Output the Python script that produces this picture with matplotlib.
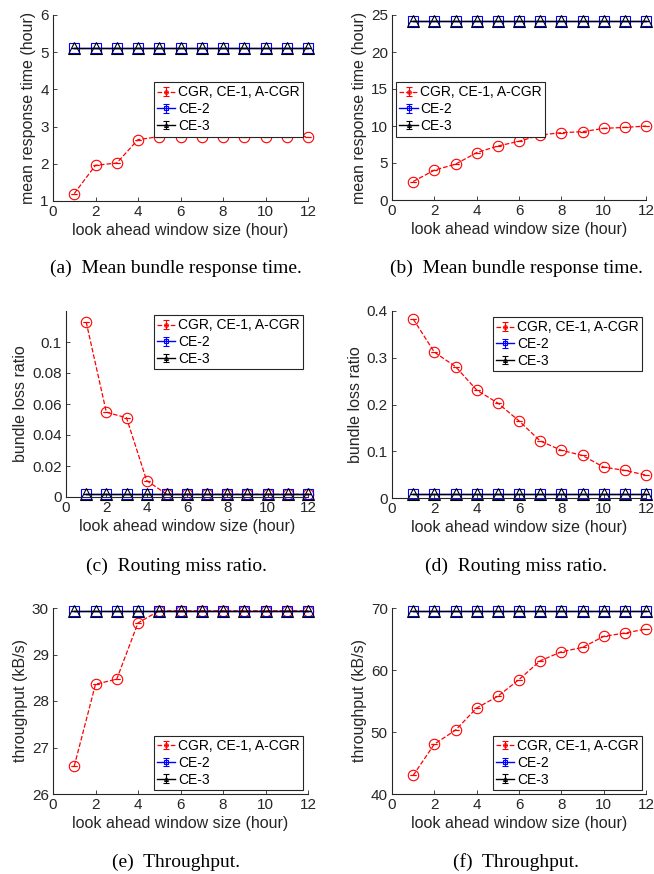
import numpy as np
import matplotlib.pyplot as plt
from matplotlib.container import ErrorbarContainer
from matplotlib.legend_handler import HandlerErrorbar

# datos
hours = [1, 2, 3, 4, 5, 6, 7, 8, 9, 10, 11, 12]
series_names = ['CGR, CE-1, A-CGR', 'CE-2', 'CE-3']

resp_a_cgr = [1.20, 1.96, 2.02, 2.65, 2.73, 2.73, 2.73, 2.73, 2.73, 2.73, 2.73, 2.73]
resp_a_ce2 = [5.10] * 12
resp_a_ce3 = [5.10] * 12

resp_b_cgr = [2.5, 4.03, 4.84, 6.4, 7.3, 7.93, 8.78, 9.1, 9.23, 9.68, 9.81, 9.99]
resp_b_ce2 = [24.2] * 12
resp_b_ce3 = [24.2] * 12

loss_c_cgr = [0.1129, 0.0547, 0.0511, 0.0106, 0.0017, 0.0017, 0.0017, 0.0017, 0.0017, 0.0017, 0.0017, 0.0017]
loss_c_ce2 = [0.0019] * 12
loss_c_ce3 = [0.0019] * 12

loss_d_cgr = [0.383, 0.312, 0.281, 0.231, 0.203, 0.165, 0.122, 0.102, 0.091, 0.066, 0.059, 0.049]
loss_d_ce2 = [0.009] * 12
loss_d_ce3 = [0.009] * 12

thr_e_cgr = [26.60, 28.36, 28.47, 29.68, 29.94, 29.94, 29.94, 29.94, 29.94, 29.94, 29.94, 29.94]
thr_e_ce2 = [29.94] * 12
thr_e_ce3 = [29.94] * 12

thr_f_cgr = [43.0, 48.04, 50.3, 53.87, 55.76, 58.46, 61.48, 62.94, 63.64, 65.42, 65.96, 66.6]
thr_f_ce2 = [69.47] * 12
thr_f_ce3 = [69.47] * 12

err_zero = [0.0] * 12

W, H = 654, 874
axcol = '#262626'

plt.rcParams['font.family'] = ['Liberation Sans', 'DejaVu Sans']
plt.rcParams['font.size'] = 11

fig = plt.figure(figsize=(W / 100, H / 100), dpi=100)


def make_ax(l, r, t, b):
    return fig.add_axes([l / W, 1 - b / H, (r - l) / W, (b - t) / H])


def panel(ax, cgr, ce2, ce3, ylim, yticks, ylabel, leg_xy, leg_loc, ytl=None):
    h1 = ax.errorbar(hours, cgr, yerr=err_zero, color='r', ls='--', lw=0.9,
                     marker='o', ms=7.5, mfc='none', mew=0.8, capsize=2,
                     elinewidth=0.8, label=series_names[0])
    h2 = ax.errorbar(hours, ce2, yerr=err_zero, color='b', ls='-', lw=1.0,
                     marker='s', ms=7.5, mfc='none', mew=0.8, capsize=2,
                     elinewidth=0.8, label=series_names[1])
    h3 = ax.errorbar(hours, ce3, yerr=err_zero, color='k', ls='-', lw=1.0,
                     marker='^', ms=8, mfc='none', mew=0.8, capsize=2,
                     elinewidth=0.8, label=series_names[2])
    for h in (h1, h2, h3):
        for art in h.get_children():
            art.set_clip_on(False)
    ax.set_xlim(0, 12)
    ax.set_xticks(range(0, 13, 2))
    ax.set_ylim(*ylim)
    ax.set_yticks(yticks)
    if ytl is not None:
        ax.set_yticklabels(ytl)
    ax.set_xlabel('look ahead window size (hour)', color=axcol, labelpad=3, fontsize=11.5)
    ax.set_ylabel(ylabel, color=axcol, labelpad=3, fontsize=11.5)
    ax.spines['top'].set_visible(False)
    ax.spines['right'].set_visible(False)
    for s in ('left', 'bottom'):
        ax.spines[s].set_color(axcol)
        ax.spines[s].set_linewidth(0.8)
    ax.tick_params(direction='in', length=3, width=0.6, colors=axcol, pad=3)
    leg = ax.legend(loc=leg_loc, bbox_to_anchor=(leg_xy[0] / W, 1 - leg_xy[1] / H),
                    bbox_transform=fig.transFigure, borderaxespad=0, fancybox=False,
                    framealpha=1, edgecolor=axcol, markerscale=0.35, handlelength=1.3,
                    handletextpad=0.2, labelspacing=0.2, borderpad=0.25, fontsize=10,
                    handler_map={ErrorbarContainer: HandlerErrorbar(yerr_size=0.3)})
    leg.get_frame().set_linewidth(0.8)


ax_a = make_ax(53, 308, 15, 201)
panel(ax_a, resp_a_cgr, resp_a_ce2, resp_a_ce3, (1, 6), range(1, 7),
      'mean response time (hour)', (303, 82), 'upper right')

ax_b = make_ax(392, 646, 15, 200)
panel(ax_b, resp_b_cgr, resp_b_ce2, resp_b_ce3, (0, 25), range(0, 26, 5),
      'mean response time (hour)', (396, 82), 'upper left')

ax_c = make_ax(66, 308, 311, 497)
panel(ax_c, loss_c_cgr, loss_c_ce2, loss_c_ce3, (0, 0.12), [0, 0.02, 0.04, 0.06, 0.08, 0.1],
      'bundle loss ratio', (303, 315), 'upper right',
      ytl=['0', '0.02', '0.04', '0.06', '0.08', '0.1'])

ax_d = make_ax(392, 646, 311, 498)
panel(ax_d, loss_d_cgr, loss_d_ce2, loss_d_ce3, (0, 0.4), [0, 0.1, 0.2, 0.3, 0.4],
      'bundle loss ratio', (642, 317), 'upper right', ytl=['0', '0.1', '0.2', '0.3', '0.4'])

ax_e = make_ax(53, 308, 608, 794)
panel(ax_e, thr_e_cgr, thr_e_ce2, thr_e_ce3, (26, 30), range(26, 31),
      'throughput (kB/s)', (303, 790), 'lower right')

ax_f = make_ax(392, 646, 608, 794)
panel(ax_f, thr_f_cgr, thr_f_ce2, thr_f_ce3, (40, 70), range(40, 71, 10),
      'throughput (kB/s)', (642, 790), 'lower right')

# subtitulos
captions = ['(a)  Mean bundle response time.', '(b)  Mean bundle response time.',
            '(c)  Routing miss ratio.', '(d)  Routing miss ratio.',
            '(e)  Throughput.', '(f)  Throughput.']
cap_x = [176, 516, 176, 516, 176, 516]
cap_y = [268, 268, 566, 566, 862, 862]
for txt, cx, cy in zip(captions, cap_x, cap_y):
    fig.text(cx / W, 1 - cy / H, txt, ha='center', va='center',
             family=['Liberation Serif', 'DejaVu Serif'], fontsize=14)

plt.savefig('out.png', dpi=100)
